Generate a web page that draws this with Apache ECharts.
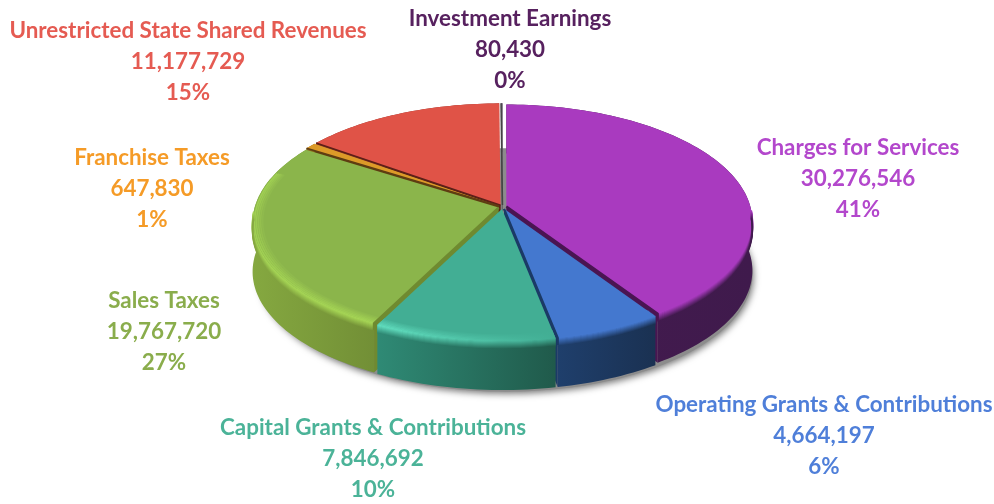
<!DOCTYPE html>
<html>
<head>
<meta charset="utf-8">
<style>html,body{margin:0;padding:0;background:#fff}#c{width:994px;height:504px}</style>
<script src="https://cdn.jsdelivr.net/npm/echarts@6/dist/echarts.min.js"></script>
</head>
<body>
<div id="c"></div>
<script>
const categories = ['Charges for Services','Operating Grants & Contributions','Capital Grants & Contributions','Sales Taxes','Franchise Taxes','Unrestricted State Shared Revenues','Investment Earnings'];
const amounts = [30276546,4664197,7846692,19767720,647830,11177729,80430];
const percents = ['41%','6%','10%','27%','1%','15%','0%'];

const topColors  = ['#a93abf','#4478cf','#42ae94','#8bb54b','#dc9a28','#e05347','#6f5f78'];
const textColors = ['#b347cc','#4f7fd9','#4bb398','#8aad4c','#f59b27','#e55b52','#57215f'];
const edgeColors = ['#4a1552','#1b3a66','#6f8a30','#6f8a30','#5e3d12','#5c2018','#444444'];
const wallStops  = [['#451b50','#3f1a4c'],['#1f3f6c','#1a3152'],['#2f8a75','#205a4b'],['#85a840','#728f36'],['#8a6018','#8a6018'],['#8a3028','#8a3028'],['#555555','#555555']];
const rimLights  = [['#a93abf','#a93abf'],['#4478cf','#4478cf'],['#62dfc0','#42ae94'],['#a6d655','#a6d655'],['#dc9a28','#dc9a28'],['#e05347','#e05347'],['#8f7f95','#8f7f95']];
const labelAnchors = [[858,132],[824,389],[373,412],[164,285],[152,142],[188,15],[510,3]];

const CX = 502.5, CY = 207, A = 115, B = 244, K = -0.129, DEPTH = 49, EX = 4, EY = 2;
const total = amounts.reduce((s, v) => s + v, 0);
const rad = d => d * Math.PI / 180;

function pt(deg, r, d, ox, oy) {
  const u = r * Math.sin(rad(deg)), v = -r * Math.cos(rad(deg)), w = 1 + K * v;
  return [CX + ox + B * u / w, CY + oy + A * v / w + d];
}
function arc(a0, a1, r, d, ox, oy) {
  const pts = [], n = Math.max(2, Math.ceil((a1 - a0) / 1.5));
  for (let i = 0; i <= n; i++) pts.push(pt(a0 + (a1 - a0) * i / n, r, d, ox, oy));
  return pts;
}
function hex(c){return [1,3,5].map(i=>parseInt(c.substr(i,2),16));}
function mix(a,b,t){const x=hex(a),y=hex(b);return 'rgb('+x.map((q,i)=>Math.round(q+(y[i]-q)*t)).join(',')+')';}
function hGrad(x0,x1,c0,c1){return new echarts.graphic.LinearGradient(x0,0,x1,0,[{offset:0,color:c0},{offset:1,color:c1}],true);}

let acc = 0;
const slices = amounts.map((v, i) => {
  const a0 = acc / total * 360; acc += v; const a1 = acc / total * 360;
  return {i, a0, a1, mid: (a0 + a1) / 2};
});
const paintOrder = slices.slice().sort((p, q) => -Math.cos(rad(p.mid)) - -Math.cos(rad(q.mid)));

function renderSlice(params, api) {
  const s = slices[api.value(0)], i = s.i, z = params.dataIndex * 10 + 10;
  const ox = EX * Math.sin(rad(s.mid)), oy = -EY * Math.cos(rad(s.mid));
  const kids = [];
  const apexT = pt(0, 0, 0, ox, oy), apexB = pt(0, 0, DEPTH, ox, oy);
  const radial = a => {
    const q = pt(a, 1, 0, ox, oy), qb = pt(a, 1, DEPTH, ox, oy);
    const front = Math.cos(rad(a)) < 0;
    kids.push({type:'polygon', z2:z, shape:{points:[apexT,q,qb,apexB]}, style:{fill:edgeColors[i]}});
    kids.push({type:'polyline', z2:150, shape:{points: front ? [apexT,q,pt(a,1,7,ox,oy)] : [apexT,q]},
      style:{fill:null, stroke:edgeColors[i], lineWidth: front ? 2.4 : 1.5, lineJoin:'round'}});
  };
  if (Math.sin(rad(s.a0)) < 0) radial(s.a0);
  if (Math.sin(rad(s.a1)) > 0) radial(s.a1);
  const top = arc(s.a0, s.a1, 1, 0, ox, oy);
  const xs = top.map(p => p[0]), xMin = Math.min(...xs), xMax = Math.max(...xs);
  kids.push({type:'polygon', z2:z+1,
    shape:{points: top.concat(arc(s.a0, s.a1, 1, DEPTH, ox, oy).reverse())},
    style:{fill:hGrad(xMin,xMax,wallStops[i][0],wallStops[i][1])}});
  kids.push({type:'polygon', z2:z+2, shape:{points:[apexT].concat(top)}, style:{fill:topColors[i]}});
  for (let step = -6; step <= 8; step++) {
    const t = (step + 6) / 14;
    const lo = Math.max(s.a0, step < 0 ? 72 : 92), hi = Math.min(s.a1, step < 0 ? 288 : 268);
    if (hi <= lo) continue;
    const pts = step < 0 ? arc(lo, hi, 1 + step / 125, 0, ox, oy) : arc(lo, hi, 1, step, ox, oy);
    const col = (light, wall) => t < 0.45
      ? mix(topColors[i], light, t / 0.45)
      : mix(light, wall, (t - 0.45) / 0.55);
    kids.push({type:'polyline', z2:z+3, shape:{points:pts},
      style:{fill:null, lineWidth:1.6, stroke:hGrad(xMin,xMax,
        col(rimLights[i][0],wallStops[i][0]), col(rimLights[i][1],wallStops[i][1]))}});
  }
  return {type:'group', children:kids};
}
function renderShadow() {
  return {type:'group', children:[
    {type:'polygon', z2:1, shape:{points: arc(0, 360, 1.004, DEPTH - 1, 3, 4)},
      style:{fill:'#8c8c8c', shadowBlur:7, shadowColor:'rgba(0,0,0,0.55)', shadowOffsetX:1, shadowOffsetY:2}},
    {type:'polygon', z2:2, shape:{points: arc(0, 360, 1, DEPTH - 6, 0, 0)}, style:{fill:'#8c8c8c'}}
  ]};
}
function renderLabel(params, api) {
  const i = api.value(0), p = labelAnchors[i];
  return {type:'text', z2:200, style:{
    x:p[0], y:p[1], text:[categories[i], amounts[i].toLocaleString('en-US'), percents[i]].join('\n'),
    fill:textColors[i], font:'700 22.4px "Lato"', lineHeight:31, align:'center', verticalAlign:'top'}};
}

const chart = echarts.init(document.getElementById('c'), null, {renderer:'canvas'});
chart.setOption({
  animation:false,
  backgroundColor:'#fff',
  xAxis:{show:false}, yAxis:{show:false},
  series:[
    {type:'custom', coordinateSystem:'none', z:1, silent:true, renderItem:renderShadow, data:[[0]]},
    {type:'custom', coordinateSystem:'none', z:2, silent:true, renderItem:renderSlice,
      data:paintOrder.map(s => [s.i, amounts[s.i]])},
    {type:'custom', coordinateSystem:'none', z:3, silent:true, renderItem:renderLabel,
      data:categories.map((c, i) => [i, amounts[i]])}
  ]
});
</script>
</body>
</html>
